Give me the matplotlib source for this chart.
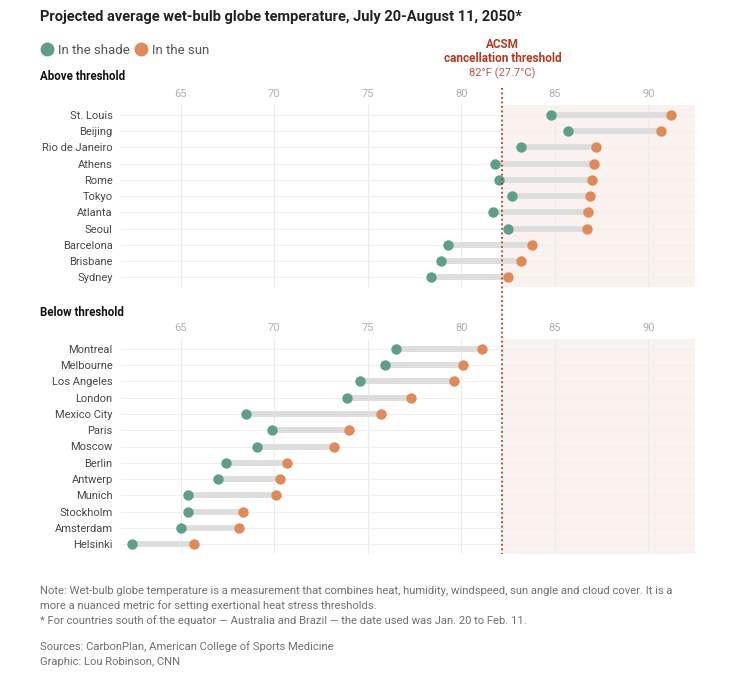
import matplotlib
matplotlib.use("Agg")
import matplotlib.pyplot as plt
import matplotlib.transforms as mtransforms
from matplotlib.lines import Line2D

plt.rcParams['font.family'] = ['Roboto', 'DejaVu Sans']

# Wet-bulb globe temperature (°F)
above_cities = ["St. Louis", "Beijing", "Rio de Janeiro", "Athens", "Rome", "Tokyo",
                "Atlanta", "Seoul", "Barcelona", "Brisbane", "Sydney"]
above_shade = [84.8, 85.7, 83.2, 81.8, 82.0, 82.7, 81.7, 82.5, 79.3, 78.9, 78.4]
above_sun = [91.2, 90.7, 87.2, 87.1, 87.0, 86.9, 86.8, 86.7, 83.8, 83.2, 82.5]

below_cities = ["Montreal", "Melbourne", "Los Angeles", "London", "Mexico City", "Paris",
                "Moscow", "Berlin", "Antwerp", "Munich", "Stockholm", "Amsterdam", "Helsinki"]
below_shade = [76.5, 75.9, 74.6, 73.9, 68.5, 69.9, 69.1, 67.4, 67.0, 65.4, 65.4, 65.0, 62.4]
below_sun = [81.1, 80.1, 79.6, 77.3, 75.7, 74.0, 73.2, 70.7, 70.3, 70.1, 68.3, 68.1, 65.7]

threshold = 82.2
ticks = [65, 70, 75, 80, 85, 90]
xmin, xmax = 61.8, 92.5

SHADE = "#5f9e8a"
SUN = "#df8a58"
RED = "#b43a22"

W, H = 750, 673
fig = plt.figure(figsize=(W / 100, H / 100), dpi=100)


def px_axes(left, top, right, bottom):
    return fig.add_axes([left / W, 1 - bottom / H, (right - left) / W, (bottom - top) / H])


def draw_panel(ax, cities, shade, sun):
    n = len(cities)
    ys = list(range(n))
    ax.set_xlim(xmin, xmax)
    ax.set_ylim(n - 0.4, -0.6)
    ax.axvspan(threshold, xmax, color="#faf2ef", zorder=0, lw=0)
    for t in ticks:
        ax.axvline(t, color="#ebebeb", lw=0.8, zorder=1)
    for y in ys:
        ax.axhline(y, color="#f0f0f0", lw=0.8, zorder=1)
    ax.hlines(ys, shade, sun, color="#dddddd", lw=4.2, zorder=2)
    ax.scatter(shade, ys, s=56, color=SHADE, zorder=3, lw=0)
    ax.scatter(sun, ys, s=56, color=SUN, zorder=3, lw=0)
    ax.set_yticks(ys)
    ax.set_yticklabels(cities, fontsize=8, color="#474747")
    ax.set_xticks(ticks)
    ax.set_xticklabels([str(t) for t in ticks], fontsize=8, color="#b0b0b0")
    ax.xaxis.tick_top()
    ax.tick_params(length=0, axis="y", pad=6)
    ax.tick_params(length=0, axis="x", pad=4)
    for s in ax.spines.values():
        s.set_visible(False)


ax_top = px_axes(121, 105, 695, 287)
draw_panel(ax_top, above_cities, above_shade, above_sun)
ax_bot = px_axes(121, 339, 695, 554)
draw_panel(ax_bot, below_cities, below_shade, below_sun)

# threshold line running through both panels
trans = mtransforms.blended_transform_factory(ax_top.transData, fig.transFigure)
fig.add_artist(Line2D([threshold, threshold], [1 - 88 / H, 1 - 554 / H], transform=trans,
                      color=RED, lw=1.3, ls=(0, (1, 1.5)), zorder=5))

# titles and labels
fig.text(40 / W, 1 - 17 / H, "Projected average wet-bulb globe temperature, July 20-August 11, 2050*",
         fontsize=10.5, fontweight="semibold", color="#222222", va="center")
fig.text(40 / W, 1 - 77 / H, "Above threshold", fontsize=8.3, fontweight="bold", color="#111111", va="center")
fig.text(40 / W, 1 - 312 / H, "Below threshold", fontsize=8.3, fontweight="bold", color="#111111", va="center")

handles = [Line2D([], [], marker="o", ls="", color=SHADE, markersize=9, label="In the shade"),
           Line2D([], [], marker="o", ls="", color=SUN, markersize=9, label="In the sun")]
fig.legend(handles=handles, loc="center left", bbox_to_anchor=(31 / W, 1 - 50 / H), ncol=2,
           frameon=False, fontsize=9.5, handletextpad=0.45, columnspacing=0.5,
           handlelength=0.7, labelcolor="#555555")

tx = trans.transform((threshold, 0))[0]
tx = fig.transFigure.inverted().transform((tx, 0))[0]
fig.text(tx, 1 - 45 / H, "ACSM", fontsize=8.5, fontweight="bold", color=RED, ha="center", va="center")
fig.text(tx, 1 - 58 / H, "cancellation threshold", fontsize=8.5, fontweight="bold", color=RED,
         ha="center", va="center")
fig.text(tx, 1 - 73 / H, "82°F (27.7°C)", fontsize=8, color="#c0564a", ha="center", va="center")

notes = [
    (591, "Note: Wet-bulb globe temperature is a measurement that combines heat, humidity, windspeed, sun angle and cloud cover. It is a"),
    (606, "more a nuanced metric for setting exertional heat stress thresholds."),
    (621, "* For countries south of the equator \u2014 Australia and Brazil \u2014 the date used was Jan. 20 to Feb. 11."),
    (647, "Sources: CarbonPlan, American College of Sports Medicine"),
    (662, "Graphic: Lou Robinson, CNN"),
]
for y, txt in notes:
    fig.text(40 / W, 1 - y / H, txt, fontsize=8.1, color="#707070", va="center")

fig.savefig("out.png", dpi=100, facecolor="white")
